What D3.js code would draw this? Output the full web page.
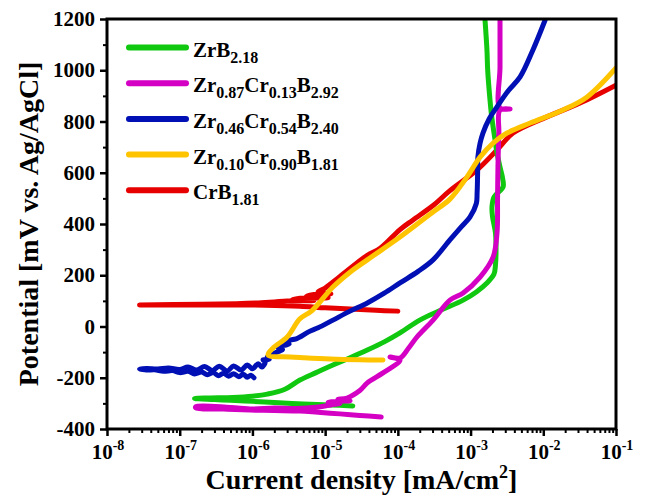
<!DOCTYPE html>
<html><head><meta charset="utf-8">
<script src="https://cdn.jsdelivr.net/npm/d3@7"></script>
<style>
body{margin:0;background:#fff}
svg{display:block}
text{font-family:"Liberation Serif","Times New Roman",serif;font-weight:bold;fill:#000}
</style>
</head><body><svg id="c" width="646" height="498"></svg>
<script>
// ---- data (current density mA/cm^2, potential mV) ----
const xTickExponents = [-8,-7,-6,-5,-4,-3,-2,-1];
const yTickValues = [-400,-200,0,200,400,600,800,1000,1200];
const yMinorValues = [-300,-100,100,300,500,700,900,1100];

const zrB218 = [
 [2.4e-5,-310],[1.2e-5,-306],[5e-6,-302],[2e-6,-297],[1e-6,-292],[5e-7,-288],[3e-7,-285],[1.6e-7,-281],
 [2.5e-7,-279],[5.4e-7,-277],[1.0e-6,-272],[1.6e-6,-264],[2.8e-6,-245],[4.5e-6,-209],[7.5e-6,-180],
 [1.28e-5,-150],[2.2e-5,-122],[3.8e-5,-92],[6.5e-5,-60],[1.07e-4,-25],[2.0e-4,25],[4e-4,65],[7.9e-4,103],
 [1.2e-3,135],[1.68e-3,170],[2.1e-3,205],[2.2e-3,240],[2.24e-3,300],[2.2e-3,365],[2.0e-3,430],[1.97e-3,466],
 [2.1e-3,505],[2.8e-3,545],[2.75e-3,580],[2.54e-3,622],[2.3e-3,680],[2.17e-3,728],[1.95e-3,820],
 [1.85e-3,884],[1.72e-3,1000],[1.68e-3,1079],[1.58e-3,1196]
];
const zr087 = [
 [5.9e-5,-353],[3e-5,-347],[1.6e-5,-341],[8e-6,-335],[4.5e-6,-330],[2e-6,-328],[9.3e-7,-326],[4e-7,-322],[1.67e-7,-318],
 [1.67e-7,-312],[5e-7,-316],[1e-6,-322],[2e-6,-318],[4e-6,-320],[8e-6,-314],[1.2e-5,-306],[1.6e-5,-300],
 [1.1e-5,-296],[1.5e-5,-292],[2.2e-5,-290],[1.5e-5,-284],[2.0e-5,-279],[3e-5,-250],[3.8e-5,-220],[6.25e-5,-181],
 [1.07e-4,-131],[7.8e-5,-119],[1.07e-4,-123],[1.4e-4,-85],[1.83e-4,-41],[3.05e-4,25],[5.2e-4,103],[7.9e-4,131],
 [1.35e-3,193],[2.04e-3,271],[2.31e-3,365],[2.35e-3,500],[2.38e-3,622],[2.45e-3,755],[2.54e-3,845],
 [3.5e-3,849],[2.54e-3,852],[2.54e-3,1013],[2.54e-3,1196]
];
const zr046 = [
 [1.05e-6,-200],[9.5e-7,-190],[8.5e-7,-198],[7.5e-7,-186],[6.5e-7,-196],[5.5e-7,-184],[4.7e-7,-194],
 [4e-7,-182],[3.4e-7,-192],[2.9e-7,-180],[2.4e-7,-188],[2e-7,-178],[1.6e-7,-185],[1.3e-7,-175],
 [1e-7,-180],[8e-8,-172],[6e-8,-175],[4.5e-8,-169],[3.5e-8,-170],[2.8e-8,-166],
 [3.5e-8,-164],[5e-8,-166],[7e-8,-162],[1e-7,-168],[1.3e-7,-158],[1.7e-7,-170],[2.2e-7,-156],
 [2.8e-7,-172],[3.5e-7,-155],[4.5e-7,-174],[5.5e-7,-154],[7e-7,-170],[8.5e-7,-150],[1e-6,-165],
 [1.2e-6,-145],[1.35e-6,-158],[1.5e-6,-138],[1.4e-6,-130],[1.7e-6,-128],[1.6e-6,-119],
 [2.18e-6,-100],[2.6e-6,-90],[2.2e-6,-80],[3.2e-6,-68],[2.9e-6,-58],[4e-6,-48],[4.5e-6,-41],
 [6e-6,-20],[8e-6,-5],[1.28e-5,25],[2.2e-5,60],[3.8e-5,92],[6.5e-5,130],[1.07e-4,170],[1.9e-4,215],
 [3.05e-4,260],[5.2e-4,338],[7.5e-4,390],[9.8e-4,427],[1.2e-3,480],[1.23e-3,521],[1.25e-3,600],
 [1.26e-3,661],[1.35e-3,715],[1.48e-3,755],[1.8e-3,810],[2.31e-3,857],[3.3e-3,920],[4.8e-3,974],
 [7.2e-3,1079],[1.06e-2,1196]
];
const zr010 = [
 [6.25e-5,-131],[3e-5,-130],[1.17e-5,-127],[5e-6,-122],[3.3e-6,-119],[1.64e-6,-111],
 [1.92e-6,-84],[3.0e-6,-41],[4.5e-6,30],[6.6e-6,62],[1.28e-5,154],[2.2e-5,212],[3.8e-5,260],
 [1.07e-4,349],[3.05e-4,447],[5.2e-4,497],[8.9e-4,583],[1.35e-3,661],[2.04e-3,716],[3.17e-3,755],
 [6.6e-3,794],[1.87e-2,845],[4.0e-2,896],[1e-1,1009]
];
const crB181 = [
 [1.0e-4,60],[5e-5,63],[2.2e-5,68],[1e-5,73],[4.5e-6,79],[1.5e-6,83],[5e-7,84],[1e-7,84],[2.8e-8,84],
 [2e-7,87],[6e-7,89],[1.2e-6,92],[2e-6,96],[3e-6,100],[7e-6,101],[3.5e-6,104],[4.5e-6,110],[1.1e-5,112],
 [5.5e-6,117],[7e-6,125],[1.2e-5,127],[8e-6,135],[1e-5,150],[1.6e-5,195],[3.8e-5,278],[5.7e-5,305],
 [1.07e-4,378],[1.6e-4,415],[3.05e-4,472],[5.2e-4,530],[1.23e-3,611],[2.31e-3,689],[3.84e-3,755],
 [1.12e-2,818],[3.2e-2,872],[1e-1,942]
];

const legendLabels = [
 [["ZrB",0],["2.18",1]],
 [["Zr",0],["0.87",1],["Cr",0],["0.13",1],["B",0],["2.92",1]],
 [["Zr",0],["0.46",1],["Cr",0],["0.54",1],["B",0],["2.40",1]],
 [["Zr",0],["0.10",1],["Cr",0],["0.90",1],["B",0],["1.81",1]],
 [["CrB",0],["1.81",1]]
];
const seriesColors = ["#10c810","#d400c4","#0010b4","#ffc400","#e60000"];
const seriesData = [zrB218, zr087, zr046, zr010, crB181];
const drawOrder = [4,0,1,2,3];

// ---- chart ----
const svg = d3.select("#c");
const L=107, R=616, T=19, B=429;
const x = d3.scaleLog().domain([1e-8,1e-1]).range([L,R]);
const y = d3.scaleLinear().domain([-400,1200]).range([B,T]);

const majorX = xTickExponents.map(e=>Math.pow(10,e));
const minorX = [];
xTickExponents.slice(0,-1).forEach(e=>{for(let k=2;k<10;k++) minorX.push(k*Math.pow(10,e));});

function styleAxis(g,w){g.select(".domain").remove();g.selectAll("line").attr("stroke","#000").attr("stroke-width",w);}
svg.append("g").attr("transform",`translate(0,${B})`)
  .call(d3.axisBottom(x).tickValues(majorX).tickSize(7).tickFormat(()=>"")).call(g=>styleAxis(g,2.5));
svg.append("g").attr("transform",`translate(0,${B})`)
  .call(d3.axisBottom(x).tickValues(minorX).tickSize(4).tickFormat(()=>"")).call(g=>styleAxis(g,2));
svg.append("g").attr("transform",`translate(${L},0)`)
  .call(d3.axisLeft(y).tickValues(yTickValues).tickSize(7).tickFormat(()=>"")).call(g=>styleAxis(g,2.5));
svg.append("g").attr("transform",`translate(${L},0)`)
  .call(d3.axisLeft(y).tickValues(yMinorValues).tickSize(4).tickFormat(()=>"")).call(g=>styleAxis(g,2));

// curves
const line = d3.line().x(d=>x(d[0])).y(d=>y(d[1])).curve(d3.curveCatmullRom.alpha(0.5));
svg.append("clipPath").attr("id","pc").append("rect").attr("x",L).attr("y",T).attr("width",R-L).attr("height",B-T);
drawOrder.forEach(i=>{
  svg.append("path").attr("d",line(seriesData[i])).attr("fill","none")
    .attr("stroke",seriesColors[i]).attr("stroke-width",5)
    .attr("stroke-linecap","round").attr("stroke-linejoin","round")
    .attr("clip-path","url(#pc)");
});

// frame
svg.append("rect").attr("x",L).attr("y",T).attr("width",R-L).attr("height",B-T)
  .attr("fill","none").attr("stroke","#000").attr("stroke-width",3);

// tick labels
yTickValues.forEach(v=>{
  svg.append("text").attr("x",L-12).attr("y",y(v)+7).attr("text-anchor","end")
    .attr("font-size",21).text(v);
});
xTickExponents.forEach(e=>{
  const t = svg.append("text").attr("x",x(Math.pow(10,e))+1).attr("y",459).attr("text-anchor","middle").attr("font-size",21);
  t.append("tspan").text("10");
  t.append("tspan").attr("font-size",14).attr("dy",-9).text(String(e));
});

// axis titles
const xt = svg.append("text").attr("x",(L+R)/2).attr("y",489).attr("text-anchor","middle").attr("font-size",28);
xt.append("tspan").text("Current density [mA/cm");
xt.append("tspan").attr("font-size",18).attr("dy",-11).text("2");
xt.append("tspan").attr("dy",11).text("]");
svg.append("text").attr("transform",`translate(38,${(T+B)/2}) rotate(-90)`).attr("text-anchor","middle")
  .attr("font-size",28).text("Potential [mV vs. Ag/AgCl]");

// legend
const legY0 = 47.5, legDy = 35.7;
legendLabels.forEach((parts,i)=>{
  const yy = legY0 + i*legDy;
  svg.append("line").attr("x1",129).attr("x2",186).attr("y1",yy).attr("y2",yy)
    .attr("stroke",seriesColors[i]).attr("stroke-width",6).attr("stroke-linecap","round");
  const t = svg.append("text").attr("x",193).attr("y",yy+9).attr("font-size",21);
  let shifted=false;
  parts.forEach(([s,sub])=>{
    const ts = t.append("tspan").text(s);
    if(sub && !shifted){ts.attr("font-size",16).attr("dy",6);shifted=true;}
    else if(!sub && shifted){ts.attr("dy",-6);shifted=false;}
    else if(sub){ts.attr("font-size",16);}
  });
});
</script>
</body></html>
